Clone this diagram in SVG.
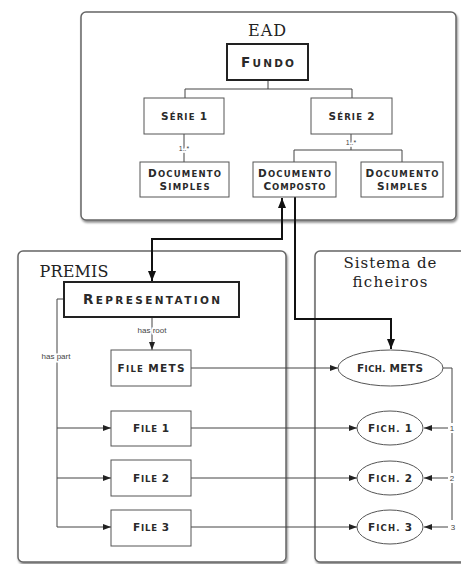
<svg xmlns="http://www.w3.org/2000/svg" width="461" height="564" viewBox="0 0 461 564">
  <style>
    .panel { fill: #fff; stroke: #666; stroke-width: 1.5; }
    .box { fill: #fff; stroke: #555; stroke-width: 1; }
    .box-strong { fill: #fff; stroke: #222; stroke-width: 2; }
    .ell { fill: #fff; stroke: #555; stroke-width: 1; }
    .title { font-family: "DejaVu Serif", "Liberation Serif", serif; font-size: 16px; fill: #222; text-anchor: middle; }
    .title-sm { font-size: 15px; }
    .sc { font-family: "DejaVu Sans", "Liberation Sans", sans-serif; font-weight: bold; font-size: 8.5px; fill: #2a2a2a; text-anchor: middle; }
    .cap { font-size: 10.5px; }
    .sc-lg { font-size: 10.5px; }
    .cap-lg { font-size: 13.5px; }
    .lbl { font-family: "Liberation Sans", Arial, sans-serif; font-size: 8px; fill: #444; text-anchor: middle; }
    .lbl-sm { font-size: 7px; }
    .halo { paint-order: stroke; stroke: #fff; stroke-width: 3px; }
    .wire { fill: none; stroke: #444; stroke-width: 1; }
    .link { fill: none; stroke: #111; stroke-width: 2; }
  </style>
  <defs>
    <filter id="shadow" x="-5%" y="-5%" width="110%" height="110%">
      <feDropShadow dx="1" dy="2" stdDeviation="1.2" flood-color="#000" flood-opacity="0.45"/>
    </filter>
    <marker id="arr" markerUnits="userSpaceOnUse" markerWidth="8" markerHeight="6" refX="8" refY="3" orient="auto">
      <path d="M0,0 L8,3 L0,6 z" fill="#222"/>
    </marker>
    <marker id="arrBig" markerUnits="userSpaceOnUse" markerWidth="10" markerHeight="10" refX="10" refY="5" orient="auto">
      <path d="M0,1 L10,5 L0,9 z" fill="#111"/>
    </marker>
  </defs>

  <rect width="461" height="564" fill="#fff"/>

  <!-- containers -->
  <g id="ead-panel">
    <rect class="panel" x="81" y="12" width="375" height="208" rx="5" filter="url(#shadow)"/>
    <text class="title" x="267" y="36" textLength="38">EAD</text>
  </g>
  <g id="premis-panel">
    <rect class="panel" x="18" y="251" width="268" height="311" rx="5" filter="url(#shadow)"/>
    <text class="title" x="74" y="277" textLength="69">PREMIS</text>
  </g>
  <g id="fs-panel">
    <rect class="panel" x="315" y="251" width="170" height="311" rx="5" filter="url(#shadow)"/>
    <text class="title title-sm" x="390" y="268" textLength="93">Sistema de</text>
    <text class="title title-sm" x="390" y="287" textLength="75">ficheiros</text>
  </g>

  <!-- connectors -->
  <g id="connectors">
    <!-- EAD hierarchy -->
    <path class="wire" d="M268,80 V89 M185,89 H352 M185,89 V98 M352,89 V98"/>
    <path class="wire" d="M184,134 V162"/>
    <path class="wire" d="M351,134 V150 M294,150 H402 M294,150 V162 M402,150 V162"/>
    <text class="lbl lbl-sm halo" x="184" y="151">1..*</text>
    <text class="lbl lbl-sm halo" x="351" y="145">1..*</text>

    <!-- EAD <-> PREMIS / file system -->
    <path class="link" d="M152,239 H282 V198" marker-end="url(#arrBig)"/>
    <path class="link" d="M282,239 H152 V281" marker-end="url(#arrBig)"/>
    <path class="link" d="M295,197 V319 H391 V349" marker-end="url(#arrBig)"/>

    <!-- has root -->
    <path class="wire" d="M152,317 V350" marker-end="url(#arr)"/>
    <text class="lbl halo" x="152" y="333">has root</text>

    <!-- has part -->
    <path class="wire" d="M64,299 H57 V527"/>
    <path class="wire" d="M57,428 H111" marker-end="url(#arr)"/>
    <path class="wire" d="M57,478 H111" marker-end="url(#arr)"/>
    <path class="wire" d="M57,527 H111" marker-end="url(#arr)"/>
    <text class="lbl halo" x="56" y="359">has part</text>

    <!-- files to file system -->
    <path class="wire" d="M191,368 H338" marker-end="url(#arr)"/>
    <path class="wire" d="M191,428 H357" marker-end="url(#arr)"/>
    <path class="wire" d="M191,478 H357" marker-end="url(#arr)"/>
    <path class="wire" d="M191,527 H357" marker-end="url(#arr)"/>

    <!-- METS ordering -->
    <path class="wire" d="M443,368 H452 V423 M452,433 V473 M452,483 V520"/>
    <path class="wire" d="M448,428 H424" marker-end="url(#arr)"/>
    <path class="wire" d="M448,478 H424" marker-end="url(#arr)"/>
    <path class="wire" d="M448,527 H424" marker-end="url(#arr)"/>
    <text class="lbl" x="452" y="431">1</text>
    <text class="lbl" x="452" y="481">2</text>
    <text class="lbl" x="453" y="530">3</text>
  </g>

  <!-- EAD nodes -->
  <g id="fundo">
    <rect class="box-strong" x="227" y="44" width="81" height="36"/>
    <text class="sc sc-lg" x="267.5" y="67" textLength="53"><tspan class="cap-lg">F</tspan>UNDO</text>
  </g>
  <g id="serie1">
    <rect class="box" x="144" y="98" width="80" height="36"/>
    <text class="sc" x="184" y="120" textLength="46"><tspan class="cap">S</tspan>ÉRIE <tspan class="cap">1</tspan></text>
  </g>
  <g id="serie2">
    <rect class="box" x="311" y="98" width="81" height="36"/>
    <text class="sc" x="351.5" y="120" textLength="46"><tspan class="cap">S</tspan>ÉRIE <tspan class="cap">2</tspan></text>
  </g>
  <g id="doc-simples-1">
    <rect class="box" x="140" y="162" width="89" height="35"/>
    <text class="sc" x="184.5" y="177" textLength="73"><tspan class="cap">D</tspan>OCUMENTO</text>
    <text class="sc" x="184.5" y="190" textLength="50"><tspan class="cap">S</tspan>IMPLES</text>
  </g>
  <g id="doc-composto">
    <rect class="box" x="253" y="162" width="83" height="35"/>
    <text class="sc" x="294.5" y="177" textLength="73"><tspan class="cap">D</tspan>OCUMENTO</text>
    <text class="sc" x="294.5" y="190" textLength="62"><tspan class="cap">C</tspan>OMPOSTO</text>
  </g>
  <g id="doc-simples-2">
    <rect class="box" x="361" y="162" width="82" height="35"/>
    <text class="sc" x="402" y="177" textLength="73"><tspan class="cap">D</tspan>OCUMENTO</text>
    <text class="sc" x="402" y="190" textLength="50"><tspan class="cap">S</tspan>IMPLES</text>
  </g>

  <!-- PREMIS nodes -->
  <g id="representation">
    <rect class="box-strong" x="64" y="282" width="175" height="35"/>
    <text class="sc sc-lg" x="151.5" y="304" textLength="137"><tspan class="cap-lg">R</tspan>EPRESENTATION</text>
  </g>
  <g id="file-mets">
    <rect class="box" x="111" y="350" width="80" height="36"/>
    <text class="sc" x="151" y="372" textLength="67"><tspan class="cap">F</tspan>ILE <tspan class="cap">METS</tspan></text>
  </g>
  <g id="file-1">
    <rect class="box" x="111" y="411" width="80" height="35"/>
    <text class="sc" x="151" y="432" textLength="36"><tspan class="cap">F</tspan>ILE <tspan class="cap">1</tspan></text>
  </g>
  <g id="file-2">
    <rect class="box" x="111" y="460" width="80" height="36"/>
    <text class="sc" x="151" y="482" textLength="36"><tspan class="cap">F</tspan>ILE <tspan class="cap">2</tspan></text>
  </g>
  <g id="file-3">
    <rect class="box" x="111" y="510" width="80" height="36"/>
    <text class="sc" x="151" y="531" textLength="36"><tspan class="cap">F</tspan>ILE <tspan class="cap">3</tspan></text>
  </g>

  <!-- file system nodes -->
  <g id="fich-mets">
    <ellipse class="ell" cx="390.5" cy="368" rx="52.5" ry="18"/>
    <text class="sc" x="390" y="372" textLength="66"><tspan class="cap">F</tspan>ICH. <tspan class="cap">METS</tspan></text>
  </g>
  <g id="fich-1">
    <ellipse class="ell" cx="390" cy="428" rx="33" ry="17"/>
    <text class="sc" x="390" y="432" textLength="44"><tspan class="cap">F</tspan>ICH. <tspan class="cap">1</tspan></text>
  </g>
  <g id="fich-2">
    <ellipse class="ell" cx="390" cy="478" rx="33" ry="17"/>
    <text class="sc" x="390" y="482" textLength="44"><tspan class="cap">F</tspan>ICH. <tspan class="cap">2</tspan></text>
  </g>
  <g id="fich-3">
    <ellipse class="ell" cx="390" cy="527" rx="33" ry="17"/>
    <text class="sc" x="390" y="531" textLength="44"><tspan class="cap">F</tspan>ICH. <tspan class="cap">3</tspan></text>
  </g>
</svg>
